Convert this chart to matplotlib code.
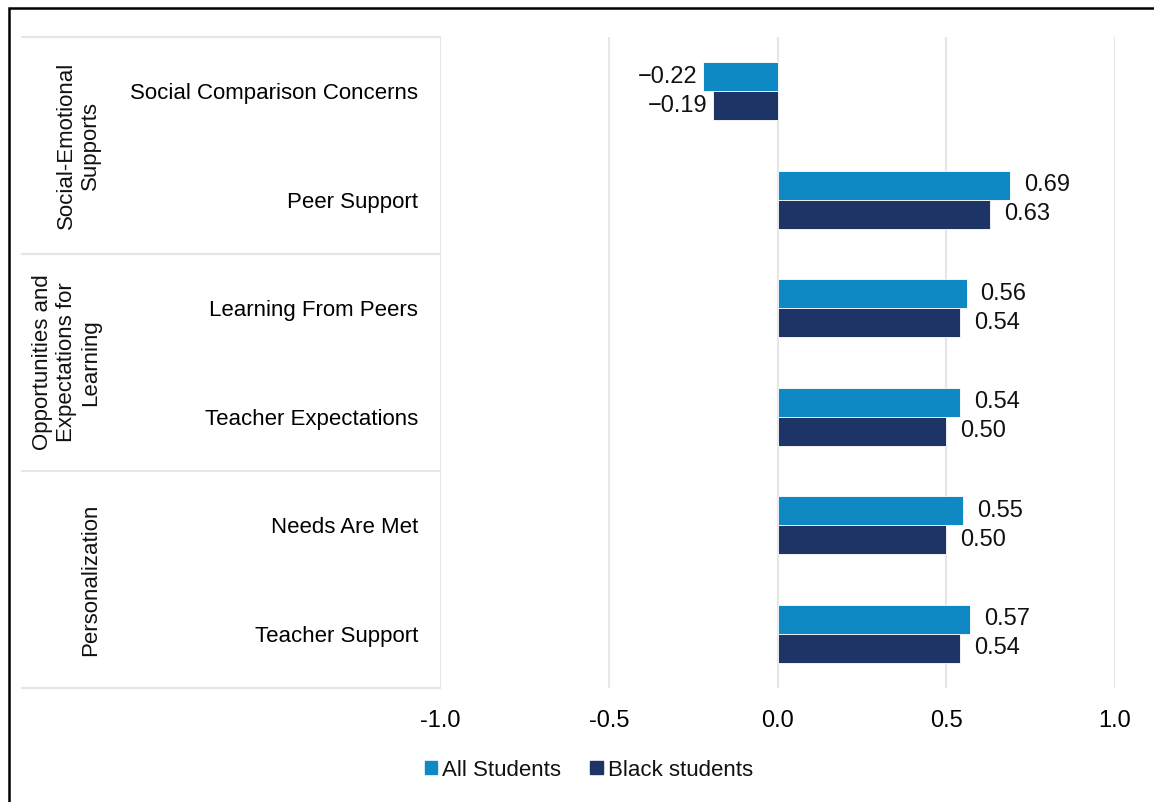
import matplotlib.pyplot as plt
from matplotlib.patches import Rectangle, Patch
import numpy as np

# data
categories = ['Social Comparison Concerns', 'Peer Support', 'Learning From Peers',
              'Teacher Expectations', 'Needs Are Met', 'Teacher Support']
all_students = [-0.22, 0.69, 0.56, 0.54, 0.55, 0.57]
black_students = [-0.19, 0.63, 0.54, 0.50, 0.50, 0.54]
groups = ['Social-Emotional\nSupports', 'Opportunities and\nExpectations for\nLearning',
          'Personalization']
group_spans = [(0, 1), (2, 3), (4, 5)]
xticks = [-1.0, -0.5, 0.0, 0.5, 1.0]

light = '#0E89C4'
dark = '#1E3366'
grid_c = '#E6E6E6'

plt.rcParams['font.family'] = ['Liberation Sans', 'DejaVu Sans']
plt.rcParams['font.size'] = 16
plt.rcParams['text.color'] = '#111111'

fig = plt.figure(figsize=(11.54, 8.02), dpi=100)
W, H = 1154, 802
ax = fig.add_axes([440 / W, 1 - 688 / H, 675 / W, (688 - 37) / H])

y = np.arange(len(categories))
h = 0.267
b1 = ax.barh(y - h / 2, all_students, height=h, color=light, edgecolor='white', linewidth=0.6, zorder=3)
b2 = ax.barh(y + h / 2, black_students, height=h, color=dark, edgecolor='white', linewidth=0.6, zorder=3)

# value labels
for bars, vals in [(b1, all_students), (b2, black_students)]:
    for bar, v in zip(bars, vals):
        yc = bar.get_y() + bar.get_height() / 2
        txt = ('\u2212%.2f' % abs(v)) if v < 0 else '%.2f' % v
        if v < 0:
            ax.annotate(txt, (v, yc), xytext=(-4, 0), textcoords='offset points',
                        ha='right', va='center', fontsize=17)
        else:
            ax.annotate(txt, (v, yc), xytext=(10, 0), textcoords='offset points',
                        ha='left', va='center', fontsize=17)

ax.set_xlim(-1, 1)
ax.set_ylim(len(categories) - 0.5, -0.5)
ax.set_xticks(xticks)
ax.set_xticklabels(['%.1f' % t for t in xticks], fontsize=17)
ax.set_yticks(y)
ax.set_yticklabels(categories)
ax.tick_params(axis='both', length=0)
ax.tick_params(axis='y', pad=15.8)
ax.tick_params(axis='x', pad=15.5)
for s in ax.spines.values():
    s.set_visible(False)
ax.xaxis.grid(True, color=grid_c, linewidth=1.5, zorder=0)
ax.set_axisbelow(True)

# table lines on the left
trans = ax.get_yaxis_transform()
x_left = (22 - 440) / 675
for yb in [-0.5, 1.5, 3.5, 5.5]:
    ax.plot([x_left, 0], [yb, yb], color=grid_c, linewidth=1.5, transform=trans, clip_on=False)

for name, (a, b) in zip(groups, group_spans):
    ax.text((101 - 440) / 675, (a + b) / 2, name, rotation=90, transform=trans,
            ha='right', va='center', multialignment='center', fontsize=16)

# legend
handles = [Patch(color=light, label='All Students'), Patch(color=dark, label='Black students')]
fig.legend(handles=handles, loc='center', bbox_to_anchor=(589 / W, 1 - 770 / H), ncol=2,
           frameon=False, handlelength=0.55, handleheight=0.55, handletextpad=0.25,
           columnspacing=1.3, fontsize=16)

# outer frame
fig.patches.append(Rectangle((8.5 / W, -0.1), 2, 1.1 - 7.5 / H, transform=fig.transFigure,
                             fill=False, edgecolor='black', linewidth=1.8))

fig.savefig('out.png', dpi=100)
